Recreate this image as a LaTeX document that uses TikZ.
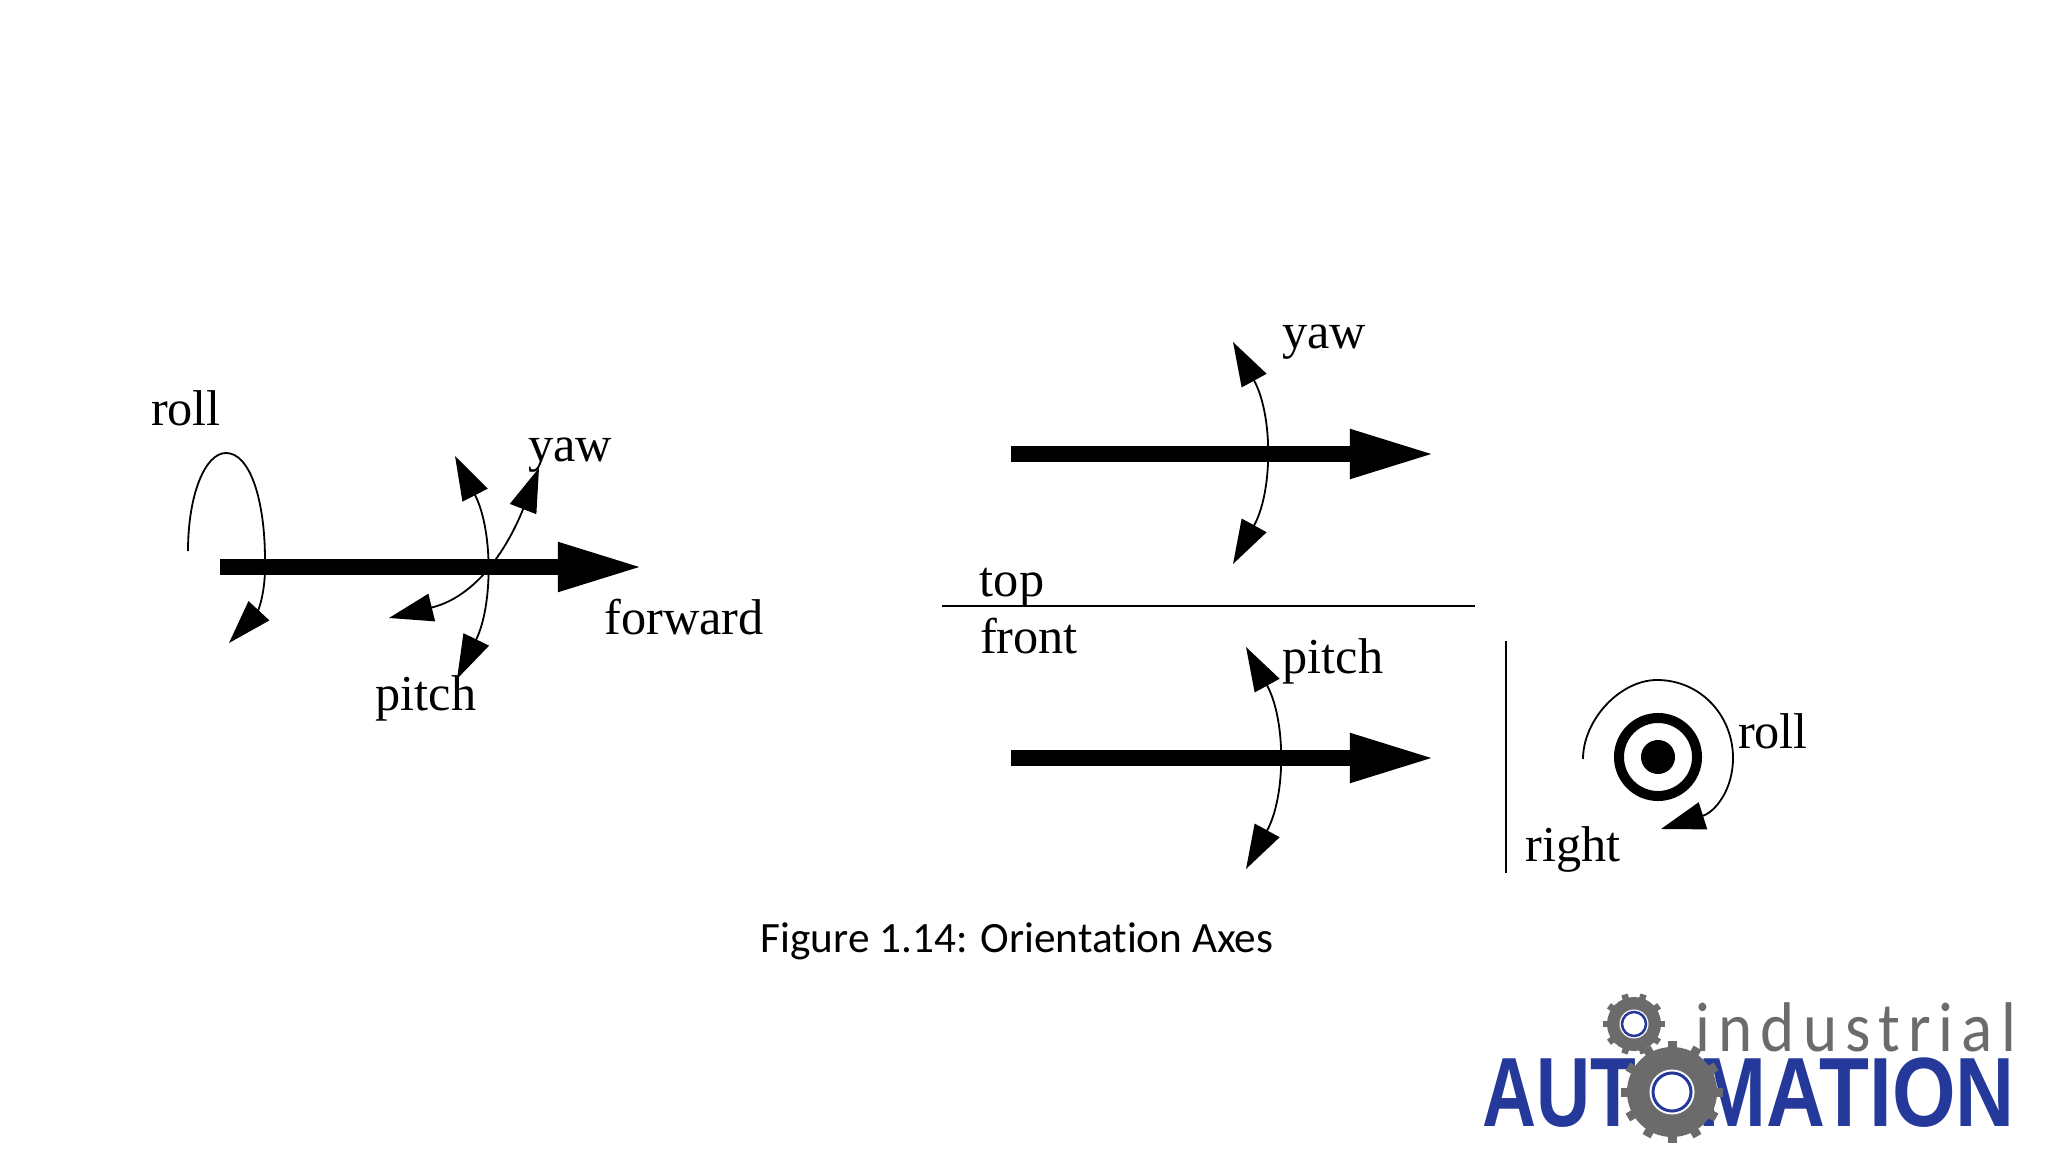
\documentclass[tikz,border=0pt]{standalone}
\usepackage{fontspec}
\setmainfont{Liberation Serif}
\newfontfamily\capfont[Ligatures=NoCommon]{Carlito}
\newfontfamily\logofont[LetterSpace=12.5]{Carlito}
\newfontfamily\autofont{Liberation Sans}
\usepackage{tikz}
\usetikzlibrary{arrows.meta, positioning}

\definecolor{logoblue}{HTML}{24399A}
\definecolor{gearfill}{HTML}{6B6B6B}

\begin{document}
\begin{tikzpicture}[
  x=0.01cm, y=-0.01cm,
  tag/.style     = {inner sep=0pt, font=\fontsize{14.3}{16}\selectfont},
  axis/.style    = {line width=0.165cm, -{Triangle[length=0.86cm, width=0.45cm]}},
  swing/.style   = {line width=0.018cm, {Triangle[length=0.44cm, width=0.28cm]}-{Triangle[length=0.44cm, width=0.28cm]}},
  swingend/.style= {line width=0.018cm, -{Triangle[length=0.44cm, width=0.28cm]}},
  rule/.style    = {line width=0.022cm},
  teeth/.style   = {gearfill, line width=0.09cm},
  smallteeth/.style = {gearfill, line width=0.065cm},
]
  \useasboundingbox (0,0) rectangle (2048,1152);

  % side view
  \coordinate (sidetail) at (220,567);
  \coordinate (sidetip)  at (644,567);
  \coordinate (rollfree) at (188,551);
  \coordinate (rolltip)  at (229,643);
  \coordinate (pitchup)  at (455,456);
  \coordinate (pitchdn)  at (457,679);
  \coordinate (yawup)    at (539,468);
  \coordinate (yawdn)    at (389,618);
  \node[tag] (rolltxt)    at (186,408) {roll};
  \node[tag] (yawtxt)     at (570,455) {yaw};
  \node[tag] (pitchtxt)   at (426,698) {pitch};
  \node[tag] (forwardtxt) at (684,617) {forward};

  \draw[axis] (sidetail) -- (sidetip);
  \draw[swingend] (rollfree) .. controls (188,495) and (205,453) .. (226,453)
    .. controls (250,453) and (265,500) .. (265,560)
    .. controls (266,600) and (255,615) .. (rolltip);
  \draw[swing] (pitchup) .. controls (493,530) and (493,605) .. (pitchdn);
  \draw[swing] (yawup) .. controls (513,535) and (483,595) .. (yawdn);

  % top view
  \coordinate (toptail) at (1011,454);
  \coordinate (toptip)  at (1436,454);
  \coordinate (topup)   at (1233,342);
  \coordinate (topdn)   at (1233,564);
  \node[tag] (yawtop) at (1324,342) {yaw};
  \node[tag] (toptxt) at (1012,588) {top};
  \draw[axis] (toptail) -- (toptip);
  \draw[swing] (topup) .. controls (1273,415) and (1273,491) .. (topdn);

  \coordinate (ruleleft)  at (942,606);
  \coordinate (ruleright) at (1475,606);
  \draw[rule] (ruleleft) -- (ruleright);

  % front view
  \coordinate (fronttail) at (1011,758);
  \coordinate (fronttip)  at (1436,758);
  \coordinate (frontup)   at (1246,647);
  \coordinate (frontdn)   at (1246,869);
  \node[tag] (fronttxt) at (1029,636) {front};
  \node[tag] (pitchfront) at (1333,661) {pitch};
  \draw[axis] (fronttail) -- (fronttip);
  \draw[swing] (frontup) .. controls (1286,720) and (1286,796) .. (frontdn);

  \coordinate (ruletop) at (1506,641);
  \coordinate (rulebot) at (1506,873);
  \draw[rule] (ruletop) -- (rulebot);

  % right view
  \node[draw, circle, line width=0.1cm, minimum size=0.78cm, inner sep=0pt] (ring) at (1658,757) {};
  \node[fill, circle, minimum size=0.34cm, inner sep=0pt] (dot) at (ring) {};
  \coordinate (rightfree) at (1583,759);
  \coordinate (righttip)  at (1661,829);
  \draw[swingend] (rightfree) .. controls (1583,720) and (1620,680) .. (1657,680)
    .. controls (1700,680) and (1733,715) .. (1733,758)
    .. controls (1733,790) and (1715,812) .. (righttip);
  \node[tag] (rollright) at (1773,731) {roll};
  \node[tag] (righttxt)  at (1573,849) {right};

  \node[inner sep=0pt, font=\capfont\fontsize{12.3}{14}\selectfont] (caption) at (1017,941) {Figure 1.14: Orientation Axes};

  % logo
  \node[inner sep=0pt, anchor=base west, logoblue, xscale=0.76, transform shape,
        font=\autofont\bfseries\fontsize{28}{30}\selectfont] (aut) at (1482,1126) {AUT};
  \node[inner sep=0pt, anchor=base west, logoblue, xscale=0.83, transform shape,
        font=\autofont\bfseries\fontsize{28}{30}\selectfont] (mation) at (1698,1126) {MATION};
  \node[inner sep=0pt, anchor=base west, gearfill, xscale=0.924, transform shape,
        font=\logofont\fontsize{20}{22}\selectfont] (industrial) at (1695,1051) {industrial};

  \coordinate (smallgear) at (1634,1024);
  \foreach \a in {0,36,...,324}
    \draw[smallteeth] (smallgear) -- ++(\a:31);
  \node[fill=gearfill, circle, minimum size=0.54cm, inner sep=0pt] (smallbody) at (smallgear) {};
  \node[fill=white, circle, minimum size=0.29cm, inner sep=0pt] (smallhalo) at (smallgear) {};
  \node[draw=logoblue, fill=white, circle, line width=0.025cm, minimum size=0.24cm, inner sep=0pt] (smallhub) at (smallgear) {};

  \coordinate (biggear) at (1672,1092);
  \foreach \a in {0,30,...,330}
    \draw[teeth] (biggear) -- ++(\a:51);
  \node[fill=gearfill, circle, minimum size=0.9cm, inner sep=0pt] (bigbody) at (biggear) {};
  \node[fill=white, circle, minimum size=0.45cm, inner sep=0pt] (bighalo) at (biggear) {};
  \node[draw=logoblue, fill=white, circle, line width=0.03cm, minimum size=0.38cm, inner sep=0pt] (bighub) at (biggear) {};
\end{tikzpicture}
\end{document}
